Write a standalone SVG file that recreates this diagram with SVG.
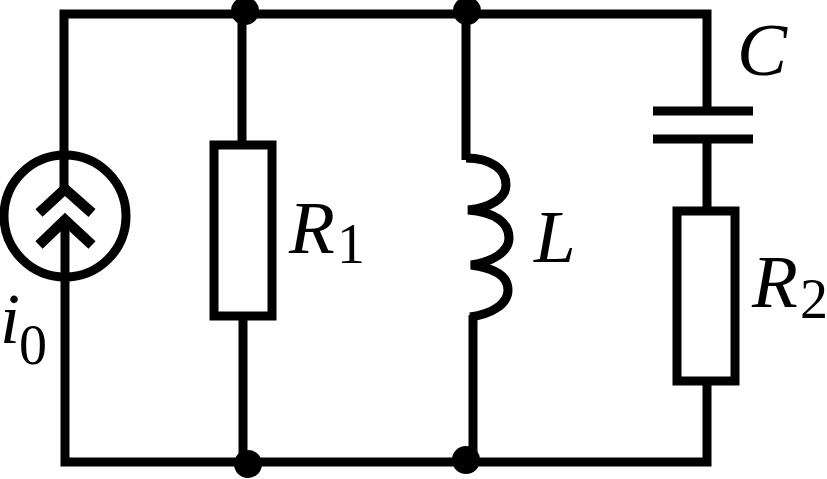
<svg xmlns="http://www.w3.org/2000/svg" width="827" height="479" viewBox="0 0 827 479">
<style>
.w{fill:none;stroke:#000;stroke-width:9}
.a{fill:none;stroke:#000;stroke-width:10.5}
.d{fill:#000}
text{font-family:"Liberation Serif","Times New Roman",serif;fill:#000}
.i{font-style:italic;font-size:75px}
.s{font-size:56px}
</style>
<rect width="827" height="479" fill="#fff"/>
<g id="connectors">
<path class="w" d="M64 160V14H707V111"/>
<path class="w" d="M707 139V210"/>
<path class="w" d="M707 382V462H65V220"/>
<path class="w" d="M242 14V144"/>
<path class="w" d="M243 317V462"/>
<path class="w" d="M466 14V160"/>
<path class="w" d="M473 315V462"/>
</g>
<g id="junctions">
<circle class="d" cx="245" cy="11" r="14"/>
<circle class="d" cx="467" cy="11" r="14"/>
<circle class="d" cx="248" cy="464" r="14"/>
<circle class="d" cx="466" cy="460" r="14"/>
</g>
<g id="source">
<circle class="w" cx="65" cy="216" r="61"/>
<path class="w" d="M64 150V190"/>
<path class="a" d="M39 213L65 189L92 213M39 245L65 220L92 245"/>
<text class="i" x="0" y="343" style="font-size:72px">i</text>
<text class="s" x="19" y="364">0</text>
</g>
<g id="R1">
<rect class="w" x="214" y="145" width="58" height="171"/>
<text class="i" x="289" y="253">R</text>
<text class="s" x="337" y="263">1</text>
</g>
<g id="L">
<path class="w" d="M466 158C492 158 506 170 506 185C506 198 490 208 468 210C494 212 509 222 509 238C509 252 492 262 471 265C494 268 508 276 508 290C508 304 492 314 470 317"/>
<text class="i" x="534" y="262">L</text>
</g>
<g id="C">
<path class="w" d="M653 111H753M653 139H753"/>
<text class="i" x="737" y="75">C</text>
</g>
<g id="R2">
<rect class="w" x="677" y="211" width="58" height="170"/>
<text class="i" x="752" y="307">R</text>
<text class="s" x="800" y="318">2</text>
</g>
</svg>
